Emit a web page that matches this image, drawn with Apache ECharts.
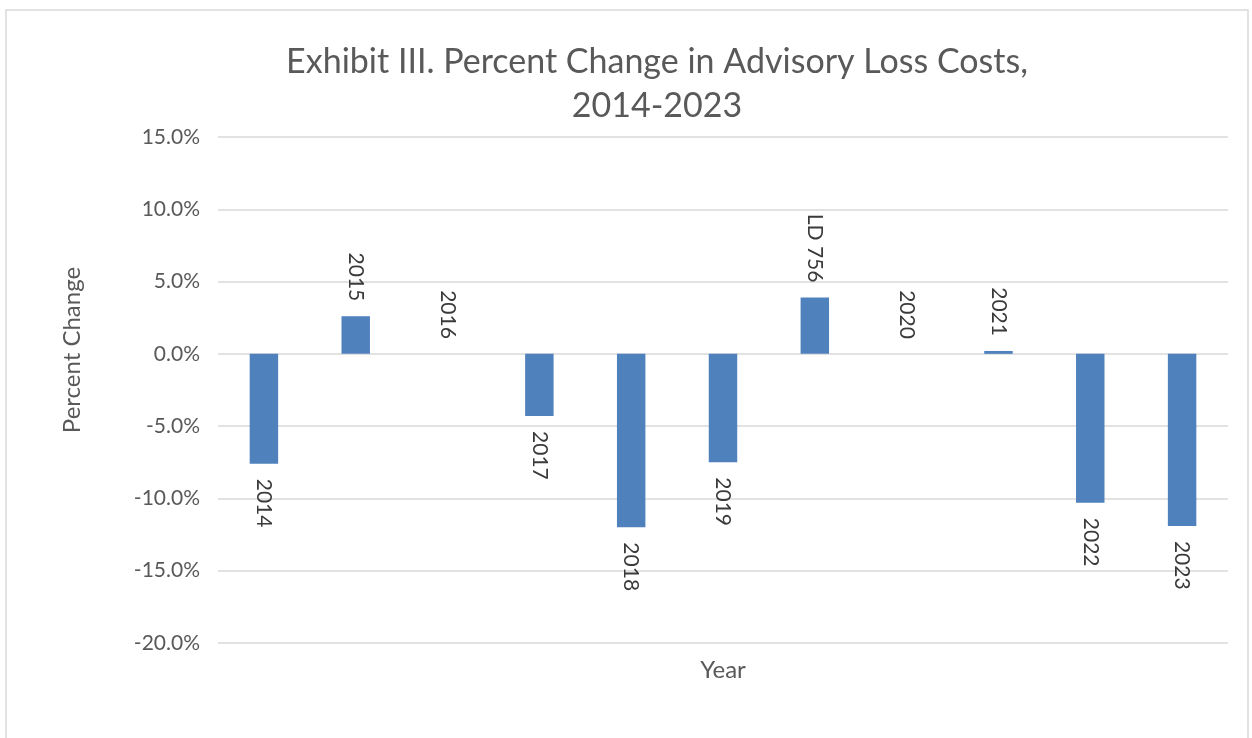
<!DOCTYPE html>
<html>
<head>
<meta charset="utf-8">
<script src="https://cdn.jsdelivr.net/npm/echarts@6/dist/echarts.min.js"></script>
<style>
  html, body { margin: 0; padding: 0; background: #fff; }
  #chart { width: 1252px; height: 738px; }
</style>
</head>
<body>
<div id="chart"></div>
<script>
var categories = ['2014', '2015', '2016', '2017', '2018', '2019', 'LD 756', '2020', '2021', '2022', '2023'];
var values = [-7.6, 2.6, 0, -4.3, -12.0, -7.5, 3.9, 0, 0.2, -10.3, -11.9];
var yMin = -20, yMax = 15, yStep = 5;

var myChart = echarts.init(document.getElementById('chart'));
var font = 'Lato, "Open Sans", sans-serif';

// labels sit past the end of each bar, rotated to read downward
var barData = values.map(function (v) {
    var up = v >= 0;
    return {
        value: v,
        label: {
            position: up ? 'top' : 'bottom',
            align: up ? 'right' : 'left'
        }
    };
});

var option = {
    backgroundColor: '#fff',
    animation: false,
    title: {
        text: 'Exhibit III. Percent Change in Advisory Loss Costs,\n2014-2023',
        left: 652,
        top: 35,
        textAlign: 'center',
        textStyle: {
            fontFamily: font,
            fontWeight: 'normal',
            fontSize: 34,
            lineHeight: 44,
            color: '#595959'
        }
    },
    graphic: [{
        type: 'rect',
        shape: { x: 6, y: 10, width: 1242, height: 760 },
        style: { fill: 'none', stroke: '#d9d9d9', lineWidth: 1.5 },
        silent: true
    }],
    grid: { left: 218, right: 24, top: 137, bottom: 95 },
    xAxis: {
        type: 'category',
        data: categories,
        name: 'Year',
        nameLocation: 'middle',
        nameGap: 15,
        nameTextStyle: { fontFamily: font, fontSize: 24, color: '#595959' },
        axisLine: { show: false },
        axisTick: { show: false },
        axisLabel: { show: false }
    },
    yAxis: {
        type: 'value',
        min: yMin,
        max: yMax,
        interval: yStep,
        name: 'Percent Change',
        nameLocation: 'middle',
        nameGap: 134,
        nameRotate: 90,
        nameTextStyle: { fontFamily: font, fontSize: 24, color: '#595959', padding: [0, 0, 0, 80] },
        axisLabel: {
            margin: 18,
            fontFamily: font,
            fontSize: 21,
            color: '#595959',
            formatter: function (v) { return v.toFixed(1) + '%'; }
        },
        splitLine: { lineStyle: { color: '#d9d9d9', width: 1.5 } }
    },
    series: [{
        type: 'bar',
        data: barData,
        barWidth: '31%',
        itemStyle: { color: '#4f81bd' },
        label: {
            show: true,
            formatter: '{b}',
            rotate: -90,
            distance: 15,
            verticalAlign: 'middle',
            fontFamily: font,
            fontSize: 21,
            color: '#3a3a3a'
        }
    }]
};

myChart.setOption(option);
window.onresize = myChart.resize;
</script>
</body>
</html>
